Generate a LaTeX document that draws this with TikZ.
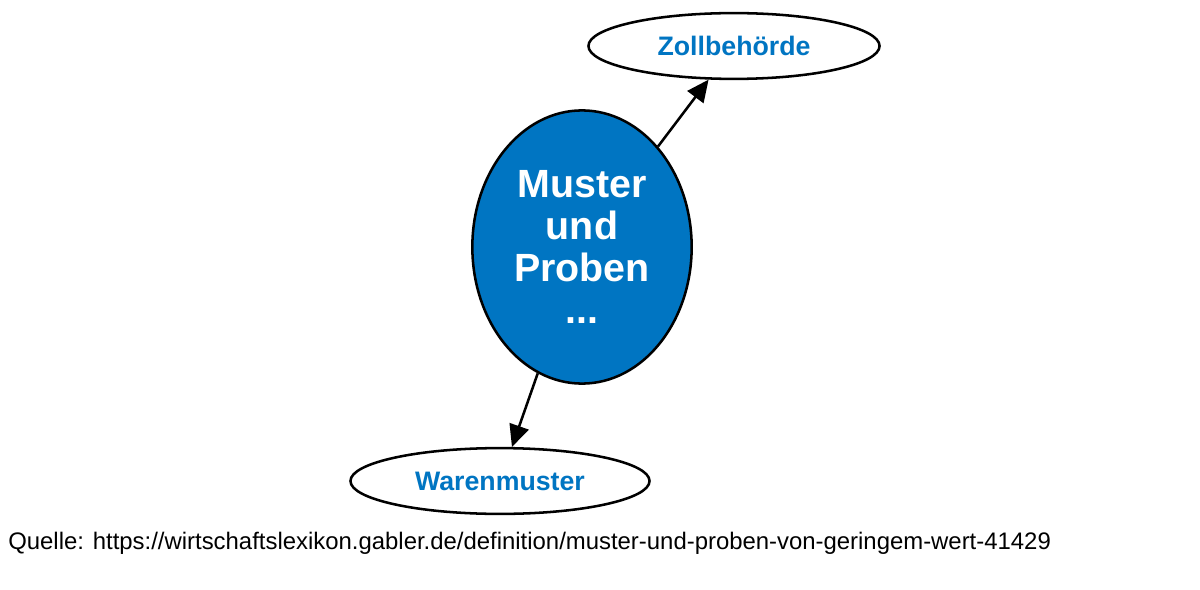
\documentclass[tikz,border=0pt]{standalone}
\usepackage{fontspec}
\setmainfont{Liberation Sans}
\usetikzlibrary{shapes.geometric,arrows.meta,positioning}
\definecolor{lexblue}{RGB}{0,117,194}
\newcommand{\px}{*0.709pt}

\tikzset{
    topic/.style={ellipse,draw=black,line width=1.8pt,fill=lexblue,text=white,
        minimum width=220\px,minimum height=274\px,inner sep=0pt,
        font=\fontsize{28}{30}\selectfont\bfseries,align=center},
    term/.style={ellipse,draw=black,line width=1.8pt,fill=white,text=lexblue,
        minimum height=66\px,inner sep=0pt,font=\fontsize{19}{22}\selectfont\bfseries},
    link/.style={-{Triangle[length=22\px,width=20\px]},line width=1.8pt}
}

\begin{document}
\begin{tikzpicture}[x=0.025cm,y=-0.025cm]
    \useasboundingbox (0,0) rectangle (1200,590);

    % main topic
    \node[topic] (muster) at (582,247) {Muster\\und\\Proben\\...};

    % related terms
    \node[term,minimum width=292\px] (zoll) at (734,46) {Zollbehörde};
    \node[term,minimum width=300\px] (waren) at (500,481) {Warenmuster};

    \draw[link] (muster) -- (zoll);
    \draw[link] (muster) -- (waren);

    % source line
    \node[anchor=west,inner sep=0pt,font=\fontsize{17}{20}\selectfont] (quelle) at (8,543)
        {Quelle: https://wirtschaftslexikon.gabler.de/definition/muster-und-proben-von-geringem-wert-41429};
\end{tikzpicture}
\end{document}
